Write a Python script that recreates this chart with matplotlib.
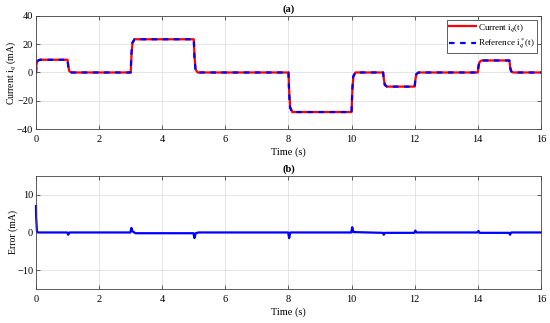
import matplotlib
matplotlib.use('Agg')
from matplotlib import pyplot as plt

# reference current iq*(t), mA (breakpoints)
t_ref = [0, 0.015, 0.04, 0.12, 1.0, 1.02, 1.05, 1.12,
         3.0, 3.02, 3.05, 3.12, 5.0, 5.02, 5.05, 5.12,
         8.0, 8.02, 8.05, 8.12, 10.0, 10.02, 10.05, 10.12,
         11.0, 11.02, 11.05, 11.12, 12.0, 12.02, 12.05, 12.12,
         14.0, 14.02, 14.05, 14.12, 15.0, 15.02, 15.05, 15.12, 16.0]
iq_ref = [0, 6, 8.2, 9, 9, 4.5, 1.0, 0,
          0, 12.5, 21, 23.5, 23.5, 11.0, 2.5, 0,
          0, -15, -25, -28, -28, -13, -3, 0,
          0, -5.3, -8.8, -10, -10, -4.7, -1.2, 0,
          0, 4.5, 7.5, 8.5, 8.5, 4.0, 1.0, 0, 0]

# measured current iq(t), mA
t_cur = [0, 0.01, 0.04, 0.12, 1.0, 1.025, 1.055, 1.12,
         3.0, 3.025, 3.055, 3.12, 5.0, 5.025, 5.055, 5.12,
         8.0, 8.025, 8.055, 8.12, 10.0, 10.025, 10.055, 10.12,
         11.0, 11.025, 11.055, 11.12, 12.0, 12.025, 12.055, 12.12,
         14.0, 14.025, 14.055, 14.12, 15.0, 15.025, 15.055, 15.12, 16.0]
iq_cur = [0, 5, 8.0, 9, 9, 4.2, 0.9, 0,
          0, 12.0, 20.5, 23.5, 23.5, 10.5, 2.3, 0,
          0, -14.5, -24.5, -28, -28, -12.5, -2.8, 0,
          0, -5.0, -8.6, -10, -10, -4.5, -1.1, 0,
          0, 4.3, 7.4, 8.5, 8.5, 3.8, 0.9, 0, 0]

# tracking error, mA
t_err = [0, 0.005, 0.03, 0.06, 0.99, 1.02, 1.06, 2.99, 3.02, 3.06, 3.15,
         4.99, 5.02, 5.06, 5.15, 7.99, 8.02, 8.06, 9.99, 10.02, 10.06,
         10.99, 11.02, 11.06, 11.99, 12.02, 12.06, 13.99, 14.02, 14.06,
         14.99, 15.02, 15.06, 16.0]
err = [7, 4, 0.3, 0, 0, -0.6, 0, 0, 1.2, 0.3, -0.2,
       -0.2, -1.5, -0.2, 0, 0, -1.5, 0, 0, 1.4, 0.1,
       -0.1, -0.6, -0.1, -0.1, 0.5, 0, 0, 0.4, -0.1,
       -0.1, -0.6, 0, 0]

plt.rcParams['font.family'] = ['Liberation Serif', 'DejaVu Serif']
plt.rcParams['mathtext.fontset'] = 'stix'
plt.rcParams['font.size'] = 7.5

fig = plt.figure(figsize=(5.5, 3.23), dpi=100)
ax1 = fig.add_axes([0.0655, 0.6006, 0.918, 0.35])
ax2 = fig.add_axes([0.0655, 0.1053, 0.918, 0.35])

ax1.plot(t_cur, iq_cur, color='red', lw=1.6, label='Current i$_q$(t)')
ax1.plot(t_ref, iq_ref, color='blue', lw=1.6, linestyle=(0, (2.5, 2.5)),
         label='Reference i$_q^*$(t)')
ax1.set_ylim(-40, 40)
ax1.set_yticks([-40, -20, 0, 20, 40])
ax1.set_ylabel('Current i$_q$ (mA)', fontsize=7)
ax1.set_title('(a)', fontweight='bold', fontsize=7.5, pad=3)
leg = ax1.legend(loc='upper right', fancybox=False, edgecolor='#444444',
                 framealpha=1, fontsize=6.5, handlelength=3.0, handletextpad=0.2,
                 borderaxespad=0.4, borderpad=0.25, labelspacing=0.35)
leg.get_frame().set_linewidth(0.6)

ax2.plot(t_err, err, color='blue', lw=1.6, clip_on=False)
ax2.set_ylim(-15, 15)
ax2.set_yticks([-10, 0, 10])
ax2.set_ylabel('Error (mA)', fontsize=7)
ax2.set_title('(b)', fontweight='bold', fontsize=7.5, pad=3)

for ax in (ax1, ax2):
    ax.set_xlim(0, 16)
    ax.set_xticks(range(0, 17, 2))
    ax.set_xlabel('Time (s)', labelpad=3)
    ax.yaxis.set_label_coords(-0.036, 0.5)
    ax.grid(True, color='#e0e0e0', lw=0.6)
    ax.set_axisbelow(True)
    ax.tick_params(direction='in', top=True, right=True, length=3,
                   width=0.6, color='#444444')
    ax.tick_params(axis='x', pad=4)
    ax.tick_params(axis='y', pad=2)
    for s in ax.spines.values():
        s.set_color('#444444')
        s.set_linewidth(0.6)

fig.savefig('out.png', dpi=100)
